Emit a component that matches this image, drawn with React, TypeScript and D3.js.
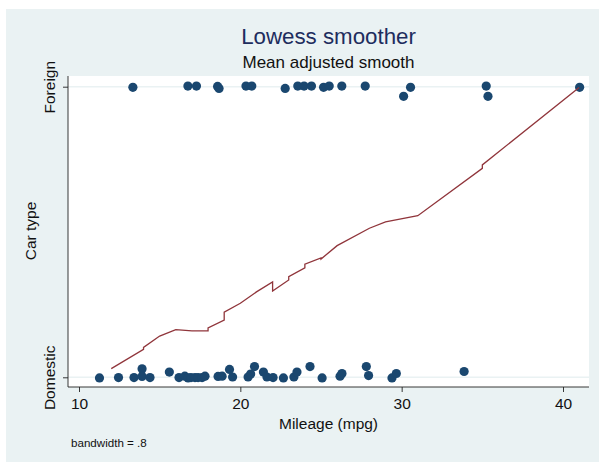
import { useRef, useEffect } from 'react';
import * as d3 from 'd3';

// jittered scatter: [mpg, car type]
const domesticPoints = [
  [11.27, -0.002], [12.45, -0.001], [13.41, -0.001], [13.91, 0.029], [13.91, 0.003],
  [14.4, -0.001], [15.6, 0.018], [16.2, -0.001], [16.56, 0.004], [16.76, -0.002],
  [16.94, -0.001], [17.19, -0.001], [17.38, -0.001], [17.63, -0.001], [17.81, 0.004],
  [18.62, 0.003], [18.87, 0.004], [19.33, 0.027], [19.52, 0.001], [20.48, 0.001],
  [20.64, 0.011], [20.88, 0.037], [21.43, 0.018], [21.65, 0.001], [22.03, -0.001],
  [22.67, -0.002], [23.32, 0.001], [23.51, 0.018], [24.32, 0.037], [25.07, -0.002],
  [26.18, 0.004], [26.3, 0.013], [27.81, 0.037], [27.95, 0.006], [29.4, -0.002],
  [29.67, 0.013], [33.87, 0.02],
];

const foreignPoints = [
  [13.34, 0.998], [16.75, 1.002], [17.28, 1.002], [18.59, 1.001], [18.68, 0.994],
  [20.35, 1.002], [20.71, 1.002], [22.78, 0.994], [23.56, 1.002], [23.95, 1.002],
  [24.41, 1.002], [25.16, 0.998], [25.51, 1.002], [26.29, 1.002], [27.74, 1.002],
  [30.12, 0.967], [30.55, 0.998], [35.24, 1.002], [35.35, 0.967], [41.03, 0.998],
];

// mean adjusted lowess smooth, ties give the small vertical steps
const smoothMpg = [12, 14, 14, 15, 16, 17, 18, 18, 19, 19, 20, 21, 22, 22, 23, 23, 24, 24, 25, 25, 26, 28, 29, 31, 35, 35, 41];
const smoothVal = [0.03, 0.096, 0.103, 0.142, 0.164, 0.16, 0.16, 0.17, 0.197, 0.224, 0.255, 0.294, 0.328, 0.297, 0.335, 0.346, 0.377, 0.389, 0.411, 0.407, 0.453, 0.513, 0.535, 0.556, 0.719, 0.731, 0.997];

const xTicks = [10, 20, 30, 40];
const yTicks = [0, 1];
const yTickLabels = ['Domestic', 'Foreign'];

const App = () => {
  const svgRef = useRef<SVGSVGElement>(null);

  useEffect(() => {
    const svg = d3.select(svgRef.current);
    svg.selectAll('*').remove();

    const width = 599;
    const height = 462;
    const plot = { left: 68, right: 589, top: 76, bottom: 387 };
    const font = '"Liberation Sans", Arial, Helvetica, sans-serif';

    const x = d3.scaleLinear().domain([10, 40]).range([79, 563]);
    const y = d3.scaleLinear().domain([0, 1]).range([377.3, 86.7]);

    svg.append('rect').attr('width', width).attr('height', height).attr('fill', '#ffffff');
    svg.append('rect')
      .attr('x', 6).attr('y', 9)
      .attr('width', width - 6).attr('height', height - 9)
      .attr('fill', '#eaf2f3');
    svg.append('rect')
      .attr('x', plot.left).attr('y', plot.top)
      .attr('width', plot.right - plot.left).attr('height', plot.bottom - plot.top)
      .attr('fill', '#ffffff');

    // grid at the two categories
    svg.append('g').selectAll('line')
      .data(yTicks)
      .join('line')
      .attr('x1', plot.left).attr('x2', plot.right)
      .attr('y1', d => y(d)).attr('y2', d => y(d))
      .attr('stroke', '#eaf2f3')
      .attr('stroke-width', 1.6);

    // axes
    const xAxis = svg.append('g')
      .attr('transform', `translate(0,${plot.bottom})`)
      .call(d3.axisBottom(x).tickValues(xTicks).tickSize(5).tickSizeOuter(0));
    xAxis.select('.domain').attr('d', `M${plot.left},0H${plot.right}`).attr('stroke', '#222').attr('stroke-width', 0.9);
    xAxis.selectAll('.tick line').attr('stroke', '#222').attr('stroke-width', 0.9);
    xAxis.selectAll('.tick text')
      .attr('font-family', font).attr('font-size', 15.5).attr('fill', '#111')
      .attr('y', 22).attr('dy', null);

    const yAxis = svg.append('g')
      .attr('transform', `translate(${plot.left},0)`)
      .call(d3.axisLeft(y).tickValues(yTicks).tickSize(5).tickSizeOuter(0)
        .tickFormat((d, i) => yTickLabels[i]));
    yAxis.select('.domain').attr('d', `M0,${plot.top}V${plot.bottom}`).attr('stroke', '#222').attr('stroke-width', 0.9);
    yAxis.selectAll('.tick line').attr('stroke', '#222').attr('stroke-width', 0.9);
    yAxis.selectAll('.tick text')
      .attr('font-family', font).attr('font-size', 15.5).attr('fill', '#111')
      .attr('x', null).attr('dy', null)
      .attr('text-anchor', 'middle')
      .attr('transform', 'translate(-13.5,0) rotate(-90)');

    // scatter
    svg.append('g').selectAll('circle')
      .data([...domesticPoints, ...foreignPoints])
      .join('circle')
      .attr('cx', d => x(d[0]))
      .attr('cy', d => y(d[1]))
      .attr('r', 4.6)
      .attr('fill', '#1a476f');

    // smooth
    const line = d3.line<number>()
      .x(d => x(smoothMpg[d]))
      .y(d => y(smoothVal[d]));
    svg.append('path')
      .datum(d3.range(smoothMpg.length))
      .attr('fill', 'none')
      .attr('stroke', '#90353b')
      .attr('stroke-width', 1.3)
      .attr('d', line);

    // titles
    const cx = (plot.left + plot.right) / 2;
    svg.append('text')
      .attr('x', cx).attr('y', 44)
      .attr('text-anchor', 'middle')
      .attr('font-family', font).attr('font-size', 22.3)
      .attr('fill', '#1e2d5e')
      .text('Lowess smoother');
    svg.append('text')
      .attr('x', cx).attr('y', 68)
      .attr('text-anchor', 'middle')
      .attr('font-family', font).attr('font-size', 17)
      .attr('fill', '#111')
      .text('Mean adjusted smooth');
    svg.append('text')
      .attr('x', cx).attr('y', 429)
      .attr('text-anchor', 'middle')
      .attr('font-family', font).attr('font-size', 15.5)
      .attr('fill', '#111')
      .text('Mileage (mpg)');
    svg.append('text')
      .attr('transform', `translate(36,${(plot.top + plot.bottom) / 2 - 0.5}) rotate(-90)`)
      .attr('text-anchor', 'middle')
      .attr('font-family', font).attr('font-size', 15.5)
      .attr('fill', '#111')
      .text('Car type');
    svg.append('text')
      .attr('x', 71).attr('y', 446.5)
      .attr('font-family', font).attr('font-size', 11.6)
      .attr('fill', '#111')
      .text('bandwidth = .8');
  }, []);

  return (
    <svg
      ref={svgRef}
      width="599"
      height="462"
      style={{ position: 'absolute', left: 0, top: 0, display: 'block' }}
    ></svg>
  );
};

export default App;
